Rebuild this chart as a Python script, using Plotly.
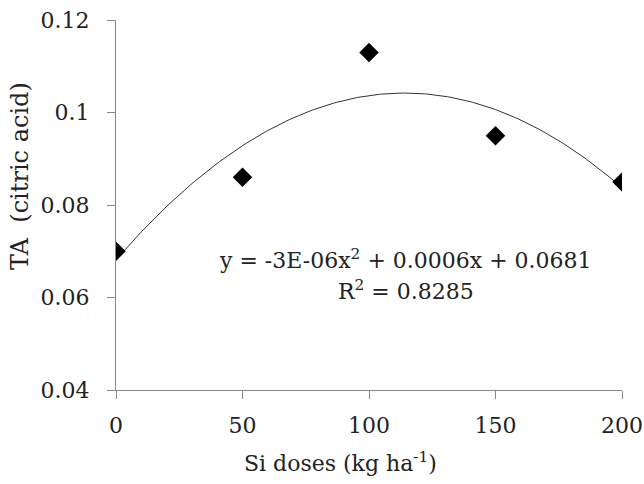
import numpy as np
import plotly.graph_objects as go

si_doses = [0, 50, 100, 150, 200]
ta_values = [0.070, 0.086, 0.113, 0.095, 0.085]
x_ticks = [0, 50, 100, 150, 200]
y_ticks = [0.04, 0.06, 0.08, 0.10, 0.12]
y_tick_labels = ["0.04", "0.06", "0.08", "0.1", "0.12"]

coef = np.polyfit(si_doses, ta_values, 2)
xf = np.linspace(0, 200, 201)
yf = np.polyval(coef, xf)

FONT = "DejaVu Serif"
TXT = "#222222"
FS = 22

W, H = 644, 484
l, r, t, b = 116, 22, 20, 94
pw, ph = W - l - r, H - t - b


def px(xp):
    return (xp - l) / pw


def py(yp):
    return (H - b - yp) / ph


fig = go.Figure()
fig.add_trace(go.Scatter(x=xf, y=yf, mode="lines",
                         line=dict(color="#333333", width=1), hoverinfo="skip"))
fig.add_trace(go.Scatter(x=si_doses, y=ta_values, mode="markers",
                         marker=dict(symbol="diamond", size=15, color="black")))

fig.update_layout(
    width=W, height=H,
    margin=dict(l=l, r=r, t=t, b=b, autoexpand=False),
    paper_bgcolor="white", plot_bgcolor="white",
    showlegend=False,
    font=dict(family=FONT, size=FS, color=TXT),
    xaxis=dict(range=[0, 200], tickvals=x_ticks, showgrid=False, zeroline=False,
               showline=True, linecolor="#888888", linewidth=1,
               ticks="outside", ticklen=8, tickcolor="#888888",
               ticklabelstandoff=8,
               tickfont=dict(family=FONT, size=FS, color=TXT)),
    yaxis=dict(range=[0.04, 0.12], tickvals=y_ticks, ticktext=y_tick_labels,
               showgrid=False, zeroline=False,
               showline=True, linecolor="#888888", linewidth=1,
               ticks="outside", ticklen=8, tickcolor="#888888",
               ticklabelstandoff=13,
               tickfont=dict(family=FONT, size=FS, color=TXT)),
    annotations=[
        dict(text="y = -3E-06x<sup>2</sup> + 0.0006x + 0.0681", x=px(405), y=py(259),
             xref="paper", yref="paper", showarrow=False, xanchor="center", yanchor="middle",
             font=dict(family=FONT, size=FS, color=TXT)),
        dict(text="R<sup>2</sup> = 0.8285", x=px(406), y=py(290),
             xref="paper", yref="paper", showarrow=False, xanchor="center", yanchor="middle",
             font=dict(family=FONT, size=FS, color=TXT)),
        dict(text="Si doses (kg ha<sup>-1</sup>)", x=px(340), y=py(462),
             xref="paper", yref="paper", showarrow=False, xanchor="center", yanchor="middle",
             font=dict(family=FONT, size=FS, color=TXT)),
        dict(text="TA  (citric acid)", x=px(20), y=py(176), textangle=-90,
             xref="paper", yref="paper", showarrow=False, xanchor="center", yanchor="middle",
             font=dict(family=FONT, size=24, color=TXT)),
    ],
)

fig.write_html("out.html")
